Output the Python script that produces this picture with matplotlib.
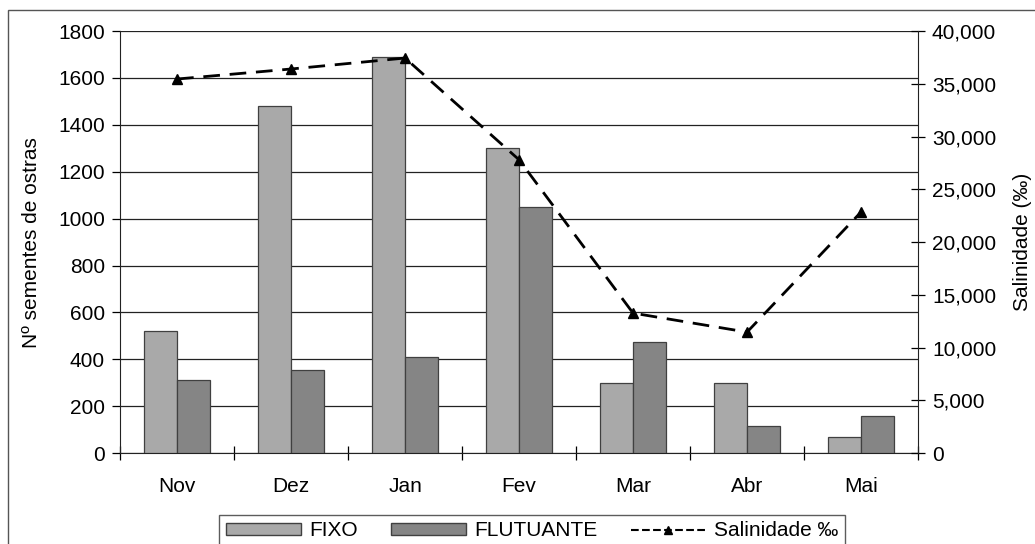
import numpy as np
import matplotlib.pyplot as plt
from matplotlib.patches import Rectangle, Patch
from matplotlib.lines import Line2D
from matplotlib.ticker import FuncFormatter

plt.rcParams['font.family'] = ['Liberation Sans', 'DejaVu Sans']

meses = ["Nov", "Dez", "Jan", "Fev", "Mar", "Abr", "Mai"]
fixo = [520, 1480, 1690, 1300, 300, 300, 70]
flutuante = [311, 354, 410, 1050, 474, 115, 158]
salinidade = [35450, 36400, 37440, 27800, 13270, 11470, 22850]

fs = 15

fig = plt.figure(figsize=(10.35, 5.44), dpi=100)
ax = fig.add_axes([0.116, 0.167, 0.771, 0.776])

# moldura externa
fig.patches.append(Rectangle((8 / 1035, -0.05), 1.1, 1 - 10 / 544 + 0.05,
                             transform=fig.transFigure, fill=False,
                             edgecolor="#555555", lw=1.0))

x = np.arange(len(meses))
w = 0.29
ax.bar(x - w / 2, fixo, w, color="#a9a9a9", edgecolor="#404040", lw=0.9, zorder=3)
ax.bar(x + w / 2, flutuante, w, color="#858585", edgecolor="#404040", lw=0.9, zorder=3)

ax.set_xlim(-0.5, len(meses) - 0.5)
ax.set_ylim(0, 1800)
ax.set_yticks(range(0, 1801, 200))
ax.yaxis.grid(True, color="#222222", lw=0.9, zorder=0)
ax.set_axisbelow(True)
ax.set_xticks(x)
ax.set_xticklabels(meses, fontsize=fs)
ax.set_xticks(np.arange(-0.5, len(meses)), minor=True)
ax.tick_params(axis="x", which="major", length=0, pad=17)
ax.tick_params(axis="x", which="minor", length=10, direction="inout", width=0.9)
ax.tick_params(axis="y", labelsize=fs, length=6, width=0.9, pad=5)
ax.set_ylabel("Nº sementes de ostras", fontsize=fs, labelpad=12)
for s in ["top", "right"]:
    ax.spines[s].set_visible(False)
ax.spines["left"].set_color("#222222")
ax.spines["bottom"].set_color("#222222")

ax2 = ax.twinx()
ax2.plot(x, salinidade, color="black", lw=2, ls=(0, (6, 3.5)), marker="^",
         markersize=7, zorder=4)
ax2.set_ylim(0, 40000)
ax2.set_yticks(range(0, 40001, 5000))
ax2.yaxis.set_major_formatter(FuncFormatter(lambda v, p: f"{int(v):,}"))
ax2.tick_params(axis="y", labelsize=fs, length=10, direction="inout", width=0.9, pad=5)
ax2.set_ylabel("Salinidade (‰)", fontsize=fs, labelpad=12)
for s in ["top", "left", "bottom"]:
    ax2.spines[s].set_visible(False)
ax2.spines["right"].set_color("#222222")

handles = [Patch(facecolor="#a9a9a9", edgecolor="#404040"),
           Patch(facecolor="#858585", edgecolor="#404040"),
           Line2D([], [], color="black", lw=1.5, ls="--", marker="^", markersize=6)]
leg = fig.legend(handles, ["FIXO", "FLUTUANTE", "Salinidade ‰"], loc="upper center",
                 bbox_to_anchor=(0.514, 0.072), ncol=3, fontsize=fs, frameon=True,
                 fancybox=False, edgecolor="#333333", handlelength=3.6,
                 handleheight=0.55, handletextpad=0.4, columnspacing=1.6,
                 borderpad=0.3)
leg.get_frame().set_linewidth(1.0)

plt.savefig("out.png", dpi=100)
